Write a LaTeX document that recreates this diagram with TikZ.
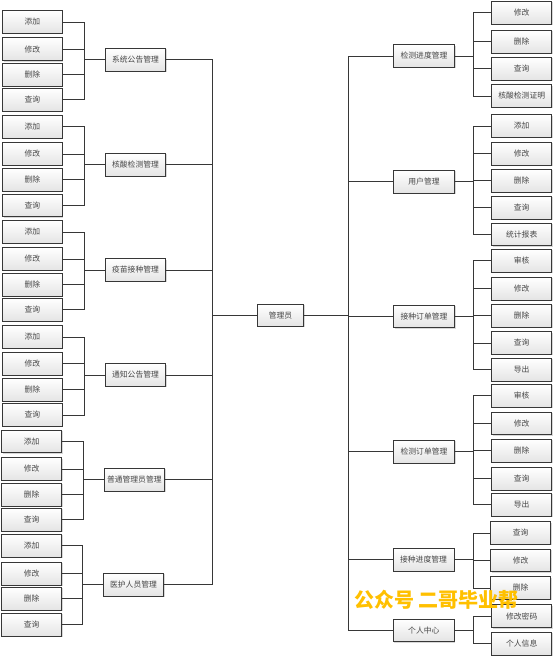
\documentclass[tikz,border=0pt]{standalone}
\usepackage{fontspec}
\newfontfamily\cjk{Noto Sans CJK SC}
\usetikzlibrary{shadows,calc}
\definecolor{txt}{RGB}{70,70,70}
\definecolor{edge}{RGB}{55,55,55}
\definecolor{boxbot}{RGB}{228,228,228}
\definecolor{wm}{RGB}{255,192,0}
\tikzset{
  box/.style={draw=edge, line width=0.9pt, shading=axis, top color=white, bottom color=boxbot,
    drop shadow={shadow xshift=1pt, shadow yshift=-1pt, fill=black!25, opacity=0.6},
    inner sep=0pt, text=txt, font=\cjk\fontsize{7.8}{9}\selectfont, minimum height=22.7pt},
  leaf/.style={box, minimum width=59.6pt},
  mid/.style={box, minimum width=60.4pt},
  rmid/.style={box, minimum width=61pt},
  conn/.style={draw=edge, line width=0.9pt},
}
\begin{document}
\begin{tikzpicture}[x=1pt,y=-1pt]
\useasboundingbox[fill=white] (0,0) rectangle (554,658);
% root
\node[box, minimum width=46.4pt, minimum height=22pt] (root) at (280.5,315.3) {管理员};
\coordinate (bL) at (212.3,315.3);
\coordinate (bR) at (348.3,315.3);
% left mids
\node[mid] (m1) at (135.5,59.8) {系统公告管理};
\node[mid] (m2) at (135.5,164.8) {核酸检测管理};
\node[mid] (m3) at (135.5,270) {疫苗接种管理};
\node[mid] (m4) at (135.5,375) {通知公告管理};
\node[mid] (m5) at (134.3,479.8) {普通管理员管理};
\node[mid] (m6) at (133.5,584.7) {医护人员管理};
% left leaves
\foreach \g/\ya/\yb/\yc/\yd/\xx in {1/22/49.2/74.7/99.7/32.4, 2/126.8/154/179.7/205.5/32.4, 3/232/259/284.8/309.7/32.4, 4/337/363.8/389.8/415/32.4, 5/441.3/469/494.7/519.7/31.7, 6/545.8/573.7/598.8/624.8/31.7}{
  \node[leaf] (l\g a) at (\xx,\ya) {添加};
  \node[leaf] (l\g b) at (\xx,\yb) {修改};
  \node[leaf] (l\g c) at (\xx,\yc) {删除};
  \node[leaf] (l\g d) at (\xx,\yd) {查询};
  \foreach \k in {a,b,c,d}{
    \draw[conn] (l\g\k.east) -| ($(m\g.west)+(-20,0)$) -- (m\g.west);
  }
  \draw[conn] (m\g.east) -| (bL);
}
\draw[conn] (bL) -- (root.west);
\draw[conn] (root.east) -- (bR);
% right mids
\node[rmid] (r1) at (424,56) {检测进度管理};
\node[rmid] (r2) at (424,181.8) {用户管理};
\node[rmid] (r3) at (424,316.3) {接种订单管理};
\node[rmid] (r4) at (424,451.7) {检测订单管理};
\node[rmid] (r5) at (423.5,559.7) {接种进度管理};
\node[rmid] (r6) at (423.8,630.3) {个人中心};
\foreach \g in {1,...,6}{\draw[conn] (bR) |- (r\g.west);}
% right leaves
\node[leaf] (r1a) at (521.7,12.7) {修改};
\node[leaf] (r1b) at (521.7,41.8) {删除};
\node[leaf] (r1c) at (521.7,68.8) {查询};
\node[leaf] (r1d) at (521.7,96) {核酸检测证明};
\node[leaf] (r2a) at (521.7,126) {添加};
\node[leaf] (r2b) at (521.7,153.7) {修改};
\node[leaf] (r2c) at (521.7,180.8) {删除};
\node[leaf] (r2d) at (521.7,207.7) {查询};
\node[leaf] (r2e) at (521.7,234.5) {统计报表};
\node[leaf] (r3a) at (521.7,260.8) {审核};
\node[leaf] (r3b) at (521.7,288.7) {修改};
\node[leaf] (r3c) at (521.7,315.8) {删除};
\node[leaf] (r3d) at (521.7,343) {查询};
\node[leaf] (r3e) at (521.7,369.7) {导出};
\node[leaf] (r4a) at (521.7,395.7) {审核};
\node[leaf] (r4b) at (521.7,423.3) {修改};
\node[leaf] (r4c) at (521.7,450.7) {删除};
\node[leaf] (r4d) at (521.7,478.8) {查询};
\node[leaf] (r4e) at (521.7,504.8) {导出};
\node[leaf] (r5a) at (520.7,533) {查询};
\node[leaf] (r5b) at (520.7,560.3) {修改};
\node[leaf] (r5c) at (520.7,588) {删除};
\node[leaf] (r6a) at (521.7,616.2) {修改密码};
\node[leaf] (r6b) at (521.7,643.7) {个人信息};
\foreach \g/\list in {1/{a,b,c,d}, 2/{a,b,c,d,e}, 3/{a,b,c,d,e}, 4/{a,b,c,d,e}, 5/{a,b,c}, 6/{a,b}}{
  \foreach \k in \list {
    \draw[conn] (r\g.east) -- ($(r\g.east)+(18.8,0)$) |- (r\g\k.west);
  }
}
% watermark
\node[font=\cjk\bfseries\fontsize{20}{22}\selectfont, text=wm, inner sep=0pt] (wmk) at (436.5,600) {公众号 二哥毕业帮};
\end{tikzpicture}
\end{document}
